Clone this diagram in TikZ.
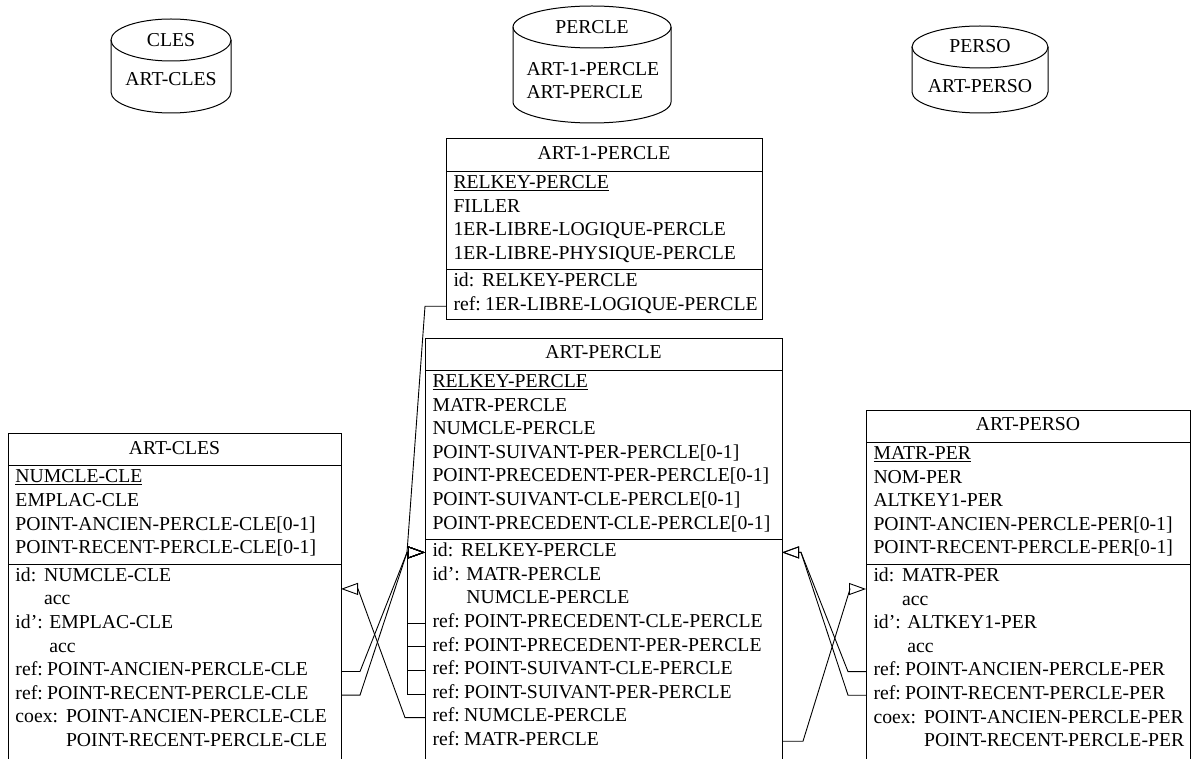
\documentclass[tikz,border=0pt]{standalone}
\usepackage{fontspec}
\setmainfont{Liberation Serif}
\usetikzlibrary{arrows.meta,calc}

\tikzset{
  txt/.style={font=\fontsize{19.7}{23.6}\selectfont, inner sep=0pt, text height=12.5pt, text depth=4pt},
  row/.style={txt, anchor=west},
  box/.style={draw, inner sep=0pt, outer sep=0pt, anchor=north west},
  fk/.style={line width=0.9pt, -{Triangle[open, length=17pt, width=12pt]}},
}

\begin{document}
\begin{tikzpicture}[x=1pt, y=-1pt, line width=1pt]
  \useasboundingbox (0,0) rectangle (1198,759);
  \clip (0,0) rectangle (1198,759);

  % files
  \draw (171,40) ellipse [x radius=60pt, y radius=21pt];
  \draw (111,40) -- (111,92) arc [start angle=180, end angle=360, x radius=60pt, y radius=21pt] -- (231,40);
  \node[txt] (f-cles) at (171,42) {CLES};
  \node[txt] (f-cles-rec) at (171,81) {ART-CLES};

  \draw (592,27) ellipse [x radius=79pt, y radius=21pt];
  \draw (513,27) -- (513,102) arc [start angle=180, end angle=360, x radius=79pt, y radius=21pt] -- (671,27);
  \node[txt] (f-percle) at (592,29) {PERCLE};
  \node[row] (f-percle-r1) at (526,71) {ART-1-PERCLE};
  \node[row] (f-percle-r2) at (526,94) {ART-PERCLE};

  \draw (980,47) ellipse [x radius=68pt, y radius=21pt];
  \draw (912,47) -- (912,92) arc [start angle=180, end angle=360, x radius=68pt, y radius=21pt] -- (1048,47);
  \node[txt] (f-perso) at (980,48) {PERSO};
  \node[txt] (f-perso-rec) at (980,88) {ART-PERSO};

  % ART-1-PERCLE
  \node[box, minimum width=316pt, minimum height=180pt] (p1) at (446,139) {};
  \draw ([yshift=-32.4pt]p1.north west) -- ([yshift=-32.4pt]p1.north east);
  \draw ([yshift=-130.8pt]p1.north west) -- ([yshift=-130.8pt]p1.north east);
  \node[txt] (p1-title) at ([yshift=-16.5pt]p1.north) {ART-1-PERCLE};
  \node[row] (p1-a1) at (453,184.2) {\underline{RELKEY-PERCLE}};
  \node[row] (p1-a2) at (453,207.8) {FILLER};
  \node[row] (p1-a3) at (453,231.4) {1ER-LIBRE-LOGIQUE-PERCLE};
  \node[row] (p1-a4) at (453,255.0) {1ER-LIBRE-PHYSIQUE-PERCLE};
  \node[row] (p1-c1) at (453,282.6) {id:\hspace{0.4em}RELKEY-PERCLE};
  \node[row] (p1-c2) at (453,306.2) {ref:\hspace{0.22em}1ER-LIBRE-LOGIQUE-PERCLE};

  % ART-PERCLE
  \node[box, minimum width=357pt, minimum height=440pt] (percle) at (425,338) {};
  \draw ([yshift=-32.4pt]percle.north west) -- ([yshift=-32.4pt]percle.north east);
  \draw ([yshift=-201.6pt]percle.north west) -- ([yshift=-201.6pt]percle.north east);
  \node[txt] (percle-title) at ([yshift=-16.5pt]percle.north) {ART-PERCLE};
  \node[row] (percle-a1) at (432,383.2) {\underline{RELKEY-PERCLE}};
  \node[row] (percle-a2) at (432,406.8) {MATR-PERCLE};
  \node[row] (percle-a3) at (432,430.4) {NUMCLE-PERCLE};
  \node[row] (percle-a4) at (432,454.0) {POINT-SUIVANT-PER-PERCLE[0-1]};
  \node[row] (percle-a5) at (432,477.6) {POINT-PRECEDENT-PER-PERCLE[0-1]};
  \node[row] (percle-a6) at (432,501.2) {POINT-SUIVANT-CLE-PERCLE[0-1]};
  \node[row] (percle-a7) at (432,524.8) {POINT-PRECEDENT-CLE-PERCLE[0-1]};
  \node[row] (percle-c1) at (432,552.4) {id:\hspace{0.4em}RELKEY-PERCLE};
  \node[row] (percle-c2) at (432,576.0) {id': MATR-PERCLE};
  \node[row] (percle-c3) at (432,599.6) {\hphantom{id': }NUMCLE-PERCLE};
  \node[row] (percle-c4) at (432,623.2) {ref:\hspace{0.22em}POINT-PRECEDENT-CLE-PERCLE};
  \node[row] (percle-c5) at (432,646.8) {ref:\hspace{0.22em}POINT-PRECEDENT-PER-PERCLE};
  \node[row] (percle-c6) at (432,670.4) {ref:\hspace{0.22em}POINT-SUIVANT-CLE-PERCLE};
  \node[row] (percle-c7) at (432,694.0) {ref:\hspace{0.22em}POINT-SUIVANT-PER-PERCLE};
  \node[row] (percle-c8) at (432,717.6) {ref:\hspace{0.22em}NUMCLE-PERCLE};
  \node[row] (percle-c9) at (432,741.2) {ref:\hspace{0.22em}MATR-PERCLE};

  % ART-CLES
  \node[box, minimum width=333pt, minimum height=340pt] (cles) at (8,433.5) {};
  \draw ([yshift=-32.4pt]cles.north west) -- ([yshift=-32.4pt]cles.north east);
  \draw ([yshift=-130.8pt]cles.north west) -- ([yshift=-130.8pt]cles.north east);
  \node[txt] (cles-title) at ([yshift=-16.5pt]cles.north) {ART-CLES};
  \node[row] (cles-a1) at (15,478.7) {\underline{NUMCLE-CLE}};
  \node[row] (cles-a2) at (15,502.3) {EMPLAC-CLE};
  \node[row] (cles-a3) at (15,525.9) {POINT-ANCIEN-PERCLE-CLE[0-1]};
  \node[row] (cles-a4) at (15,549.5) {POINT-RECENT-PERCLE-CLE[0-1]};
  \node[row] (cles-c1) at (15,577.1) {id:\hspace{0.4em}NUMCLE-CLE};
  \node[row] (cles-c2) at (15,600.7) {\hphantom{id:\hspace{0.4em}}acc};
  \node[row] (cles-c3) at (15,624.3) {id': EMPLAC-CLE};
  \node[row] (cles-c4) at (15,647.9) {\hphantom{id': }acc};
  \node[row] (cles-c5) at (15,671.5) {ref:\hspace{0.22em}POINT-ANCIEN-PERCLE-CLE};
  \node[row] (cles-c6) at (15,695.1) {ref:\hspace{0.22em}POINT-RECENT-PERCLE-CLE};
  \node[row] (cles-c7) at (15,718.7) {coex:\hspace{0.4em}POINT-ANCIEN-PERCLE-CLE};
  \node[row] (cles-c8) at (15,742.3) {\hphantom{coex:\hspace{0.4em}}POINT-RECENT-PERCLE-CLE};

  % ART-PERSO
  \node[box, minimum width=324pt, minimum height=360pt] (perso) at (866,410) {};
  \draw ([yshift=-32.4pt]perso.north west) -- ([yshift=-32.4pt]perso.north east);
  \draw ([yshift=-154.4pt]perso.north west) -- ([yshift=-154.4pt]perso.north east);
  \node[txt] (perso-title) at ([yshift=-16.5pt]perso.north) {ART-PERSO};
  \node[row] (perso-a1) at (873,455.2) {\underline{MATR-PER}};
  \node[row] (perso-a2) at (873,478.8) {NOM-PER};
  \node[row] (perso-a3) at (873,502.4) {ALTKEY1-PER};
  \node[row] (perso-a4) at (873,526.0) {POINT-ANCIEN-PERCLE-PER[0-1]};
  \node[row] (perso-a5) at (873,549.6) {POINT-RECENT-PERCLE-PER[0-1]};
  \node[row] (perso-c1) at (873,577.2) {id:\hspace{0.4em}MATR-PER};
  \node[row] (perso-c2) at (873,600.8) {\hphantom{id:\hspace{0.4em}}acc};
  \node[row] (perso-c3) at (873,624.4) {id': ALTKEY1-PER};
  \node[row] (perso-c4) at (873,648.0) {\hphantom{id': }acc};
  \node[row] (perso-c5) at (873,671.6) {ref:\hspace{0.22em}POINT-ANCIEN-PERCLE-PER};
  \node[row] (perso-c6) at (873,695.2) {ref:\hspace{0.22em}POINT-RECENT-PERCLE-PER};
  \node[row] (perso-c7) at (873,718.8) {coex:\hspace{0.4em}POINT-ANCIEN-PERCLE-PER};
  \node[row] (perso-c8) at (873,742.4) {\hphantom{coex:\hspace{0.4em}}POINT-RECENT-PERCLE-PER};

  % bends of the reference lines
  \coordinate (pid) at ($(percle.west |- percle-c1)+(-18,0)$);
  \coordinate (pidr) at ($(percle.east |- percle-c1)+(19,0)$);
  \coordinate (cles-idm) at ($(cles-c1)!0.5!(cles-c2)$);
  \coordinate (cid) at ($(cles.east |- cles-idm)+(17,0)$);
  \coordinate (perso-idm) at ($(perso-c1)!0.5!(perso-c2)$);
  \coordinate (sid) at ($(perso.west |- perso-idm)+(-16,0)$);

  \draw[fk] (p1.west |- p1-c2) -- ++(-21,0) -- (pid) -- (percle.west |- percle-c1);
  \draw[fk] (cles.east |- cles-c5) -- ++(19,0) -- (pid) -- (percle.west |- percle-c1);
  \draw[fk] (cles.east |- cles-c6) -- ++(19,0) -- (pid) -- (percle.west |- percle-c1);
  \draw[fk] (percle.west |- percle-c4) -- (pid |- percle-c4) -- (pid) -- (percle.west |- percle-c1);
  \draw[fk] (percle.west |- percle-c5) -- (pid |- percle-c5) -- (pid) -- (percle.west |- percle-c1);
  \draw[fk] (percle.west |- percle-c6) -- (pid |- percle-c6) -- (pid) -- (percle.west |- percle-c1);
  \draw[fk] (percle.west |- percle-c7) -- (pid |- percle-c7) -- (pid) -- (percle.west |- percle-c1);
  \draw[fk] (percle.west |- percle-c8) -- ++(-20,0) -- (cid) -- (cles.east |- cles-idm);
  \draw[fk] (perso.west |- perso-c5) -- ++(-18,0) -- (pidr) -- (percle.east |- percle-c1);
  \draw[fk] (perso.west |- perso-c6) -- ++(-18,0) -- (pidr) -- (percle.east |- percle-c1);
  \draw[fk] (percle.east |- percle-c9) -- ++(21,0) -- (sid) -- (perso.west |- perso-idm);
\end{tikzpicture}
\end{document}
